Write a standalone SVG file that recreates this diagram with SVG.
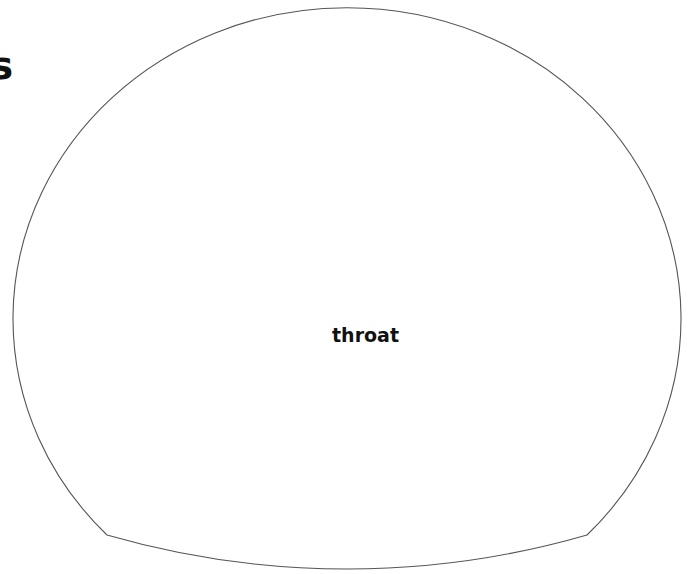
<svg xmlns="http://www.w3.org/2000/svg" width="691" height="574" viewBox="0 0 691 574">
<style>
.outline{fill:#ffffff;stroke:#555555;stroke-width:1.1}
.lbl{font-family:"DejaVu Sans",Verdana,sans-serif;font-weight:bold;fill:#111111}
</style>
<rect width="691" height="574" fill="#ffffff"/>
<text class="lbl" x="13" y="79" font-size="38" text-anchor="end">s</text>
<g id="throat">
<path class="outline" d="M107,535 A334,311 0 1 1 587,535 A864,864 0 0 1 107,535 Z"/>
<text class="lbl" x="365.5" y="342" font-size="19" text-anchor="middle">throat</text>
</g>
<g id="connectors"/>
</svg>
